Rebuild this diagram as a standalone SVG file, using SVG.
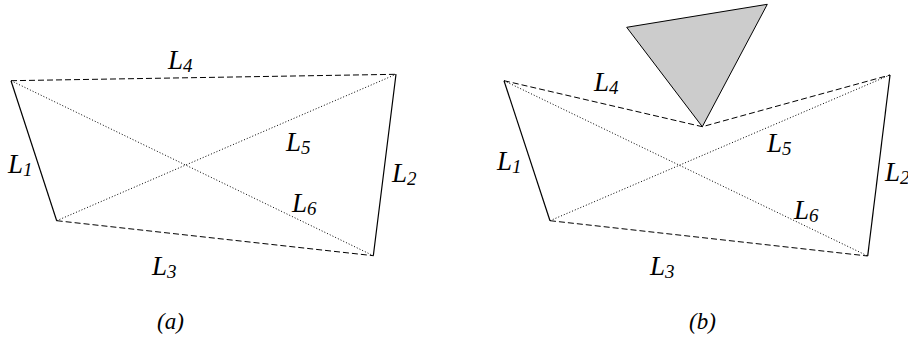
<svg xmlns="http://www.w3.org/2000/svg" width="908" height="338" viewBox="0 0 908 338">
<style>
.solid{stroke:#000;stroke-width:1.2;fill:none}
.dash{stroke:#000;stroke-width:1;fill:none;stroke-dasharray:6 3}
.dot{stroke:#000;stroke-width:1;fill:none;stroke-dasharray:1 2}
.lbl{font-family:"Liberation Serif",serif;font-style:italic;font-size:27px;fill:#000}
.sub{font-size:19px}
.cap{font-family:"Liberation Serif",serif;font-style:italic;font-size:23px;fill:#000}
</style>
<rect width="908" height="338" fill="#fff"/>
<g id="connectors-a">
<line class="solid" x1="11" y1="80.7" x2="56.7" y2="220.7"/>
<line class="solid" x1="396" y1="74.3" x2="373.3" y2="255.7"/>
<line class="dash" x1="11" y1="80.7" x2="396" y2="74.3"/>
<line class="dash" x1="56.7" y1="220.7" x2="373.3" y2="255.7"/>
<line class="dot" x1="11" y1="80.7" x2="373.3" y2="255.7"/>
<line class="dot" x1="56.7" y1="220.7" x2="396" y2="74.3"/>
</g>
<g id="labels-a">
<text class="lbl" x="168" y="68.5">L<tspan class="sub" dy="3">4</tspan></text>
<text class="lbl" x="8" y="173">L<tspan class="sub" dy="3">1</tspan></text>
<text class="lbl" x="286" y="151">L<tspan class="sub" dy="3">5</tspan></text>
<text class="lbl" x="392" y="182">L<tspan class="sub" dy="3">2</tspan></text>
<text class="lbl" x="292" y="212">L<tspan class="sub" dy="3">6</tspan></text>
<text class="lbl" x="152" y="275">L<tspan class="sub" dy="3">3</tspan></text>
<text class="cap" x="157" y="329">(a)</text>
</g>
<g id="obstacle">
<polygon points="626.7,27.3 767.3,4.3 702.3,126.7" fill="#cccccc" stroke="#000" stroke-width="1"/>
</g>
<g id="connectors-b">
<line class="solid" x1="504" y1="80.7" x2="550" y2="220.7"/>
<line class="solid" x1="890" y1="75" x2="867.7" y2="256"/>
<polyline class="dash" points="504,80.7 702.3,126.7 890,75"/>
<line class="dash" x1="550" y1="220.7" x2="867.7" y2="256"/>
<line class="dot" x1="504" y1="80.7" x2="867.7" y2="256"/>
<line class="dot" x1="550" y1="220.7" x2="890" y2="75"/>
</g>
<g id="labels-b">
<text class="lbl" x="594" y="91">L<tspan class="sub" dy="3">4</tspan></text>
<text class="lbl" x="497" y="170">L<tspan class="sub" dy="3">1</tspan></text>
<text class="lbl" x="767" y="152">L<tspan class="sub" dy="3">5</tspan></text>
<text class="lbl" x="885" y="181">L<tspan class="sub" dy="3">2</tspan></text>
<text class="lbl" x="794" y="219">L<tspan class="sub" dy="3">6</tspan></text>
<text class="lbl" x="650" y="275">L<tspan class="sub" dy="3">3</tspan></text>
<text class="cap" x="689" y="329">(b)</text>
</g>
</svg>
